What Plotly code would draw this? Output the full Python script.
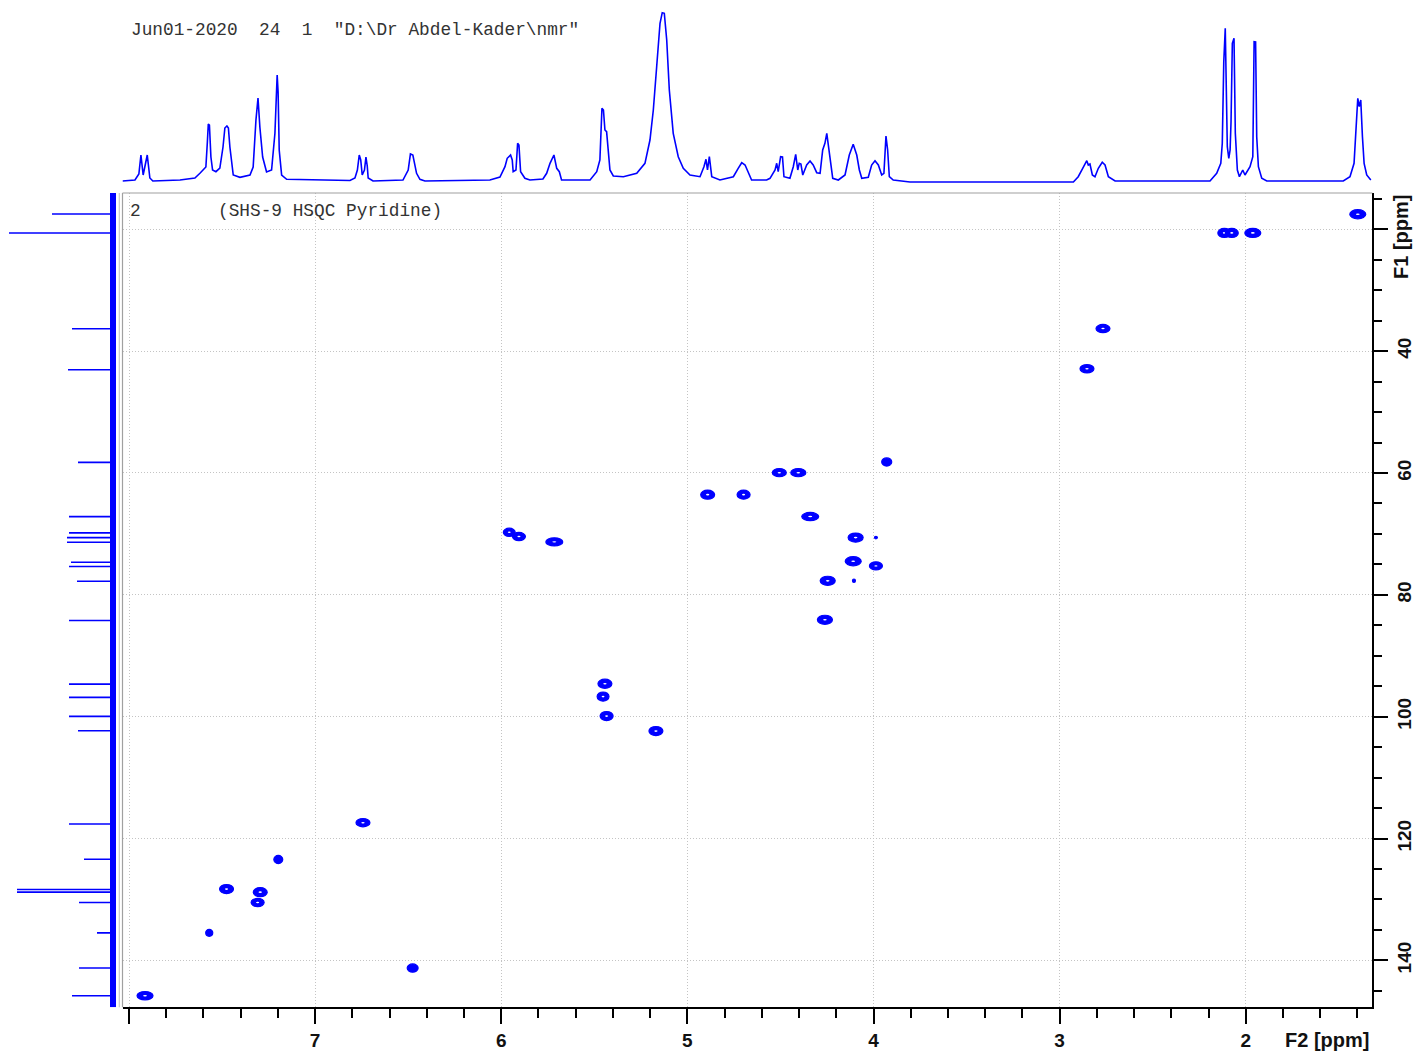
import plotly.graph_objects as go

# ---------------- data ----------------
# 1H projection (F2, top): chemical shift (ppm) and intensity (arb.)
H1_PPM = [8.035, 7.968, 7.947, 7.936, 7.924, 7.902, 7.888, 7.872, 7.726, 7.646,
          7.619, 7.587, 7.579, 7.574, 7.568, 7.560, 7.551, 7.533, 7.512, 7.495,
          7.485, 7.474, 7.466, 7.458, 7.440, 7.404, 7.350, 7.333, 7.318, 7.307,
          7.297, 7.282, 7.261, 7.234, 7.216, 7.208, 7.204, 7.199, 7.193, 7.180,
          7.153, 6.813, 6.786, 6.773, 6.763, 6.755, 6.747, 6.735, 6.727, 6.720,
          6.715, 6.689, 6.528, 6.500, 6.488, 6.475, 6.455, 6.437, 6.410, 6.061,
          6.007, 5.980, 5.968, 5.950, 5.941, 5.936, 5.921, 5.912, 5.905, 5.896,
          5.873, 5.846, 5.776, 5.756, 5.738, 5.717, 5.702, 5.688, 5.676, 5.523,
          5.487, 5.470, 5.459, 5.451, 5.443, 5.434, 5.428, 5.416, 5.398, 5.344,
          5.272, 5.228, 5.201, 5.183, 5.165, 5.147, 5.135, 5.124, 5.111, 5.097,
          5.076, 5.049, 5.022, 4.986, 4.932, 4.911, 4.900, 4.892, 4.882, 4.869,
          4.825, 4.753, 4.727, 4.708, 4.690, 4.673, 4.655, 4.574, 4.556, 4.529,
          4.520, 4.512, 4.499, 4.489, 4.481, 4.449, 4.431, 4.418, 4.407, 4.399,
          4.390, 4.380, 4.359, 4.341, 4.324, 4.305, 4.287, 4.273, 4.261, 4.251,
          4.243, 4.230, 4.219, 4.189, 4.153, 4.130, 4.109, 4.090, 4.076, 4.063,
          4.028, 4.010, 3.992, 3.974, 3.956, 3.944, 3.933, 3.924, 3.915, 3.894,
          3.804, 2.926, 2.900, 2.876, 2.854, 2.846, 2.837, 2.824, 2.810, 2.792,
          2.771, 2.756, 2.738, 2.702, 2.192, 2.156, 2.134, 2.126, 2.118, 2.110,
          2.106, 2.099, 2.091, 2.084, 2.079, 2.072, 2.063, 2.056, 2.045, 2.034,
          2.016, 2.004, 1.977, 1.962, 1.955, 1.947, 1.941, 1.932, 1.914, 1.887,
          1.476, 1.440, 1.418, 1.407, 1.398, 1.390, 1.382, 1.373, 1.364, 1.350, 1.328]
H1_INT = [1, 2, 8, 27, 7, 27, 4, 1, 2, 4,
          8.7, 15, 40, 58, 57, 25, 12, 10.3, 14, 35,
          54, 56, 54, 35, 7, 4.7, 7, 15, 62, 84,
          55, 25, 10, 12, 48.7, 100, 107, 90, 32, 7,
          2.7, 1.5, 4, 12, 27, 22, 7, 12, 25, 16,
          4, 1, 2, 12, 28, 27, 8.7, 2.7, 1, 2,
          5, 15.3, 23.7, 27, 22, 10.3, 12, 38.7, 37, 10.3,
          3.7, 2, 3, 8.7, 18.7, 27, 13.7, 10.3, 2, 2,
          10.3, 22, 73.7, 72, 52, 50.3, 38.7, 12, 6, 5.3,
          8.7, 18.7, 42, 72, 115.3, 158.7, 169.3, 168.7, 142, 92,
          48.7, 25.3, 13.7, 7, 5.3, 15.3, 22.7, 12, 25.3, 5.3,
          2, 5.3, 13.7, 19.3, 17, 8.7, 2, 2, 3.7, 12,
          18.7, 10.3, 25.3, 25, 5.3, 3.7, 15.3, 27.7, 12, 18.7,
          18, 7, 17, 21, 17, 9.3, 8.7, 32, 38.7, 48.7,
          38, 18.7, 3.7, 2, 7, 27, 37.7, 27, 12, 3.7,
          4.7, 17, 21.3, 17, 7, 8.7, 46, 32, 5.3, 2,
          0, 0, 5.3, 13.7, 21.3, 17, 18, 7, 5.3, 13.7,
          19.7, 17, 5.3, 1, 1, 8.7, 18.7, 38.7, 120.3, 153.7,
          92, 35.3, 23.7, 32, 60.3, 138.7, 143.7, 48.7, 12, 5.3,
          12, 7, 15.3, 25.3, 140.3, 140, 45.3, 15.3, 3.7, 1,
          1, 5.3, 18.7, 58.7, 83.7, 75.3, 82, 45.3, 18.7, 7, 2]

# 13C projection (F1, left): peak positions (ppm) and heights (arb.)
C13_PPM = [17.49, 20.61, 36.34, 43.07, 58.26, 67.16, 69.84, 70.61, 71.36, 74.66,
           75.36, 77.77, 84.21, 94.66, 96.84, 99.95, 102.30, 117.61, 123.39, 128.36,
           128.80, 130.49, 135.48, 141.26, 145.80]
C13_INT = [62, 105, 42, 46, 36, 45, 45, 47, 47, 43,
           45, 37, 45, 45, 45, 45, 36, 45, 30, 97,
           97, 35, 17, 35, 42]

# HSQC cross peaks: F2 (1H ppm), F1 (13C ppm), extent along F2 and F1 (ppm)
CP_F2 = [1.398, 2.115, 2.075, 1.962, 2.767, 2.853, 3.929, 4.506, 4.404, 4.891,
         4.698, 4.340, 4.096, 3.987, 4.109, 3.987, 4.246, 4.105, 4.261, 5.957,
         5.905, 5.715, 5.443, 5.453, 5.434, 5.169, 6.743, 7.198, 7.476, 7.295,
         7.309, 7.569, 6.476, 7.914]
CP_F1 = [17.54, 20.6, 20.6, 20.6, 36.3, 42.9, 58.2, 59.95, 59.95, 63.56,
         63.56, 67.16, 70.61, 70.61, 74.49, 75.25, 77.7, 77.7, 84.1, 69.74,
         70.44, 71.31, 94.6, 96.7, 99.9, 102.36, 117.4, 123.44, 128.3, 128.8,
         130.5, 135.48, 141.26, 145.8]
CP_DF2 = [0.086, 0.070, 0.070, 0.086, 0.075, 0.075, 0.054, 0.075, 0.081, 0.075,
          0.070, 0.091, 0.081, 0.016, 0.086, 0.070, 0.081, 0.016, 0.081, 0.064,
          0.070, 0.091, 0.075, 0.064, 0.070, 0.075, 0.075, 0.048, 0.075, 0.075,
          0.070, 0.038, 0.059, 0.086]
CP_DF1 = [1.5, 1.5, 1.5, 1.5, 1.35, 1.35, 1.35, 1.35, 1.35, 1.5,
          1.5, 1.35, 1.5, 0.4, 1.5, 1.35, 1.5, 0.55, 1.5, 1.35,
          1.35, 1.35, 1.5, 1.5, 1.5, 1.5, 1.35, 1.35, 1.5, 1.5,
          1.35, 1.15, 1.35, 1.35]

F2_TICKS = [8, 7, 6, 5, 4, 3, 2]
F2_LABELS = ["", "7", "6", "5", "4", "3", "2"]
F1_TICKS = [20, 40, 60, 80, 100, 120, 140]
F1_LABELS = ["", "40", "60", "80", "100", "120", "140"]

HEADER = "Jun01-2020  24  1  \"D:\\Dr Abdel-Kader\\nmr\""
TITLE_NO = "2"
TITLE = "(SHS-9 HSQC Pyridine)"

# ---------------- layout constants ----------------
W, H = 1415, 1053
X_RANGE = [8.035, 1.32]
Y_RANGE = [147.7, 14.05]
XDOM = [122.5 / W, 1372.3 / W]
YDOM = [1 - 1007.3 / H, 1 - 193 / H]
TOPDOM = [1 - 192 / H, 1 - 4 / H]
LEFTDOM = [0, 120 / W]
BLUE = "#0000ff"

fig = go.Figure()

# top 1H projection
fig.add_trace(go.Scatter(x=H1_PPM, y=H1_INT, mode="lines", xaxis="x2", yaxis="y2",
                         line=dict(color=BLUE, width=1.6), hoverinfo="skip"))

# left 13C projection: noise band + peak sticks
fig.add_trace(go.Scatter(x=[1, 1], y=Y_RANGE, mode="lines", xaxis="x3", yaxis="y3",
                         line=dict(color=BLUE, width=6), hoverinfo="skip"))
sx, sy = [], []
for p, h in zip(C13_PPM, C13_INT):
    sx += [0, h, None]
    sy += [p, p, None]
fig.add_trace(go.Scatter(x=sx, y=sy, mode="lines", xaxis="x3", yaxis="y3",
                         line=dict(color=BLUE, width=1.6), hoverinfo="skip"))

# invisible trace to instantiate main axes
fig.add_trace(go.Scatter(x=CP_F2, y=CP_F1, mode="markers", xaxis="x", yaxis="y",
                         marker=dict(size=1, color="rgba(0,0,0,0)"), hoverinfo="skip"))

shapes = []
for f2, f1, dw, dh in zip(CP_F2, CP_F1, CP_DF2, CP_DF1):
    shapes.append(dict(type="circle", xref="x", yref="y",
                       x0=f2 - dw / 2, x1=f2 + dw / 2, y0=f1 - dh / 2, y1=f1 + dh / 2,
                       fillcolor=BLUE, line=dict(color=BLUE, width=1.2), layer="above"))
    if dw > 0.06:
        shapes.append(dict(type="circle", xref="x", yref="y",
                           x0=f2 - dw * 0.12, x1=f2 + dw * 0.12,
                           y0=f1 - dh * 0.09, y1=f1 + dh * 0.09,
                           fillcolor="white", line=dict(color="white", width=0), layer="above"))

# grey frame (top / left)
shapes.append(dict(type="line", xref="x domain", yref="y domain", x0=0, x1=1, y0=1, y1=1,
                   line=dict(color="#a0a0a0", width=1.2)))
shapes.append(dict(type="line", xref="x domain", yref="y domain", x0=0, x1=0, y0=0, y1=1,
                   line=dict(color="#a0a0a0", width=1.2)))
shapes.append(dict(type="line", xref="x domain", yref="y domain", x0=-0.0026, x1=-0.0026, y0=0, y1=1,
                   line=dict(color="#c0c0c0", width=1)))

tickfont = dict(family="Liberation Sans", size=19, color="#111111", weight="bold")
GRID = dict(showgrid=True, gridcolor="#c4c4c4", griddash="1px,2px", gridwidth=1)

fig.update_layout(
    width=W, height=H,
    margin=dict(l=0, r=0, t=0, b=0),
    paper_bgcolor="white", plot_bgcolor="white",
    showlegend=False,
    shapes=shapes,
    xaxis=dict(domain=XDOM, range=X_RANGE, anchor="y", automargin=False,
               tickmode="array", tickvals=F2_TICKS, ticktext=F2_LABELS,
               ticks="outside", ticklen=15, tickwidth=2, tickcolor="black",
               showline=True, linecolor="black", linewidth=2, mirror=False,
               zeroline=False, tickfont=tickfont, **GRID,
               minor=dict(tickmode="linear", tick0=0, dtick=0.2, ticks="outside",
                          ticklen=9, tickwidth=2, tickcolor="black", showgrid=False)),
    yaxis=dict(domain=YDOM, range=Y_RANGE, anchor="x", side="right", automargin=False,
               tickmode="array", tickvals=F1_TICKS, ticktext=F1_LABELS, tickangle=-90,
               ticks="outside", ticklen=14, tickwidth=2, tickcolor="black",
               showline=True, linecolor="black", linewidth=2, mirror=False,
               zeroline=False, tickfont=tickfont, **GRID,
               minor=dict(tickmode="linear", tick0=0, dtick=5, ticks="outside",
                          ticklen=8, tickwidth=2, tickcolor="black", showgrid=False)),
    xaxis2=dict(domain=XDOM, range=X_RANGE, anchor="y2", visible=False),
    yaxis2=dict(domain=TOPDOM, range=[-10, 178], anchor="x2", visible=False),
    xaxis3=dict(domain=LEFTDOM, range=[114, -6], anchor="y3", visible=False),
    yaxis3=dict(domain=YDOM, range=Y_RANGE, anchor="x3", visible=False),
)

mono = dict(family="Liberation Mono", size=17.8, color="#333333")
axfont = dict(family="Liberation Sans", size=20, color="#111111", weight="bold")
fig.add_annotation(text=HEADER.replace(" ", "\u00a0"), xref="paper", yref="paper",
                   x=129 / W, y=1 - 30 / H, xanchor="left", yanchor="middle",
                   showarrow=False, font=mono)
fig.add_annotation(text=TITLE_NO, xref="paper", yref="paper",
                   x=128 / W, y=1 - 211 / H, xanchor="left", yanchor="middle",
                   showarrow=False, font=mono)
fig.add_annotation(text=TITLE.replace(" ", "\u00a0"), xref="paper", yref="paper",
                   x=216 / W, y=1 - 211 / H, xanchor="left", yanchor="middle",
                   showarrow=False, font=mono)
fig.add_annotation(text="F2 [ppm]", xref="paper", yref="paper",
                   x=1327 / W, y=1 - 1040 / H, xanchor="center", yanchor="middle",
                   showarrow=False, font=axfont)
fig.add_annotation(text="F1 [ppm]", xref="paper", yref="paper",
                   x=1401 / W, y=1 - 237 / H, xanchor="center", yanchor="middle",
                   textangle=-90, showarrow=False, font=axfont)

fig.write_html("out.html",
               config={"displayModeBar": False},
               post_script="document.body.style.margin='0px';"
                           "document.body.style.overflow='hidden';")
